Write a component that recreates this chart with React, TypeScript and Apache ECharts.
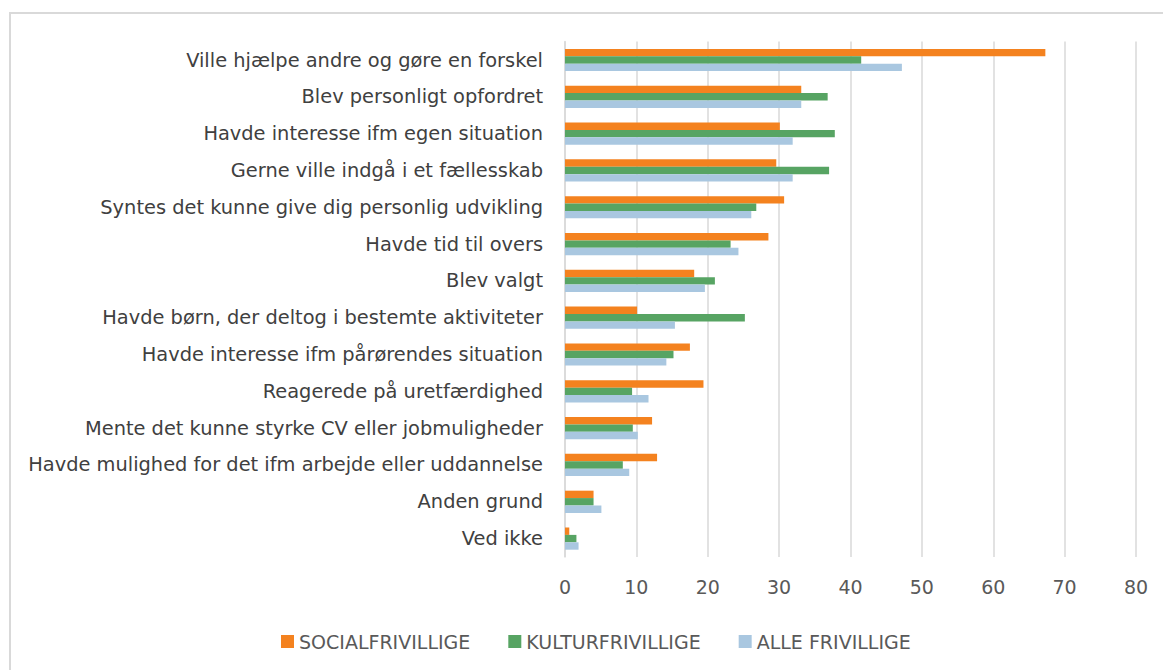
import React, { useEffect, useRef } from "react";
import * as echarts from "echarts";

const categories = [
  "Ville hjælpe andre og gøre en forskel",
  "Blev personligt opfordret",
  "Havde interesse ifm egen situation",
  "Gerne ville indgå i et fællesskab",
  "Syntes det kunne give dig personlig udvikling",
  "Havde tid til overs",
  "Blev valgt",
  "Havde børn, der deltog i bestemte aktiviteter",
  "Havde interesse ifm pårørendes situation",
  "Reagerede på uretfærdighed",
  "Mente det kunne styrke CV eller jobmuligheder",
  "Havde mulighed for det ifm arbejde eller uddannelse",
  "Anden grund",
  "Ved ikke",
];

const socialValues = [67.3, 33.1, 30.1, 29.6, 30.7, 28.5, 18.1, 10.1, 17.5, 19.4, 12.2, 12.9, 4.0, 0.6];
const kulturValues = [41.5, 36.8, 37.8, 37.0, 26.8, 23.2, 21.0, 25.2, 15.2, 9.4, 9.5, 8.1, 4.0, 1.6];
const alleValues = [47.2, 33.1, 31.9, 31.9, 26.1, 24.3, 19.6, 15.4, 14.2, 11.7, 10.2, 9.0, 5.1, 1.9];

const seriesNames = ["SOCIALFRIVILLIGE", "KULTURFRIVILLIGE", "ALLE FRIVILLIGE"];
const seriesColors = ["#F4821F", "#57A463", "#A9C7E0"];

export default function App() {
  const ref = useRef<HTMLDivElement>(null);
  useEffect(() => {
    if (!ref.current) return;
    const chart = echarts.init(ref.current, null, { renderer: "svg" });
    const font = "DejaVu Sans";
    const data = [socialValues, kulturValues, alleValues];
    chart.setOption({
      animation: false,
      backgroundColor: "#ffffff",
      textStyle: { fontFamily: font },
      graphic: [
        {
          type: "rect",
          shape: { x: 10, y: 13, width: 1200, height: 700 },
          style: { fill: "none", stroke: "#d9d9d9", lineWidth: 2 },
          silent: true,
        },
      ],
      legend: {
        left: 276,
        top: 627,
        itemWidth: 13,
        itemHeight: 13,
        itemGap: 38,
        icon: "rect",
        textStyle: { fontFamily: font, fontSize: 19, color: "#595959" },
        data: seriesNames,
      },
      grid: { left: 565, right: 27, top: 41.6, bottom: 113, containLabel: false },
      xAxis: {
        type: "value",
        min: 0,
        max: 80,
        interval: 10,
        axisLine: { show: false },
        axisTick: { show: false },
        splitLine: { lineStyle: { color: "#d9d9d9", width: 1.5 } },
        axisLabel: { fontFamily: font, fontSize: 19, color: "#595959", margin: 20 },
      },
      yAxis: {
        type: "category",
        inverse: true,
        data: categories,
        axisLine: { show: true, lineStyle: { color: "#d9d9d9", width: 1.5 } },
        axisTick: { show: false },
        axisLabel: { fontFamily: font, fontSize: 19.4, color: "#404040", margin: 22 },
      },
      series: seriesNames.map((name, i) => ({
        name,
        type: "bar",
        data: data[i],
        barWidth: 7.4,
        barGap: "0%",
        itemStyle: { color: seriesColors[i] },
      })),
    });
    return () => chart.dispose();
  }, []);
  return (
    <div style={{ position: "fixed", left: 0, top: 0, width: 1163, height: 670, background: "#fff" }}>
      <div ref={ref} style={{ width: 1163, height: 670 }} />
    </div>
  );
}
